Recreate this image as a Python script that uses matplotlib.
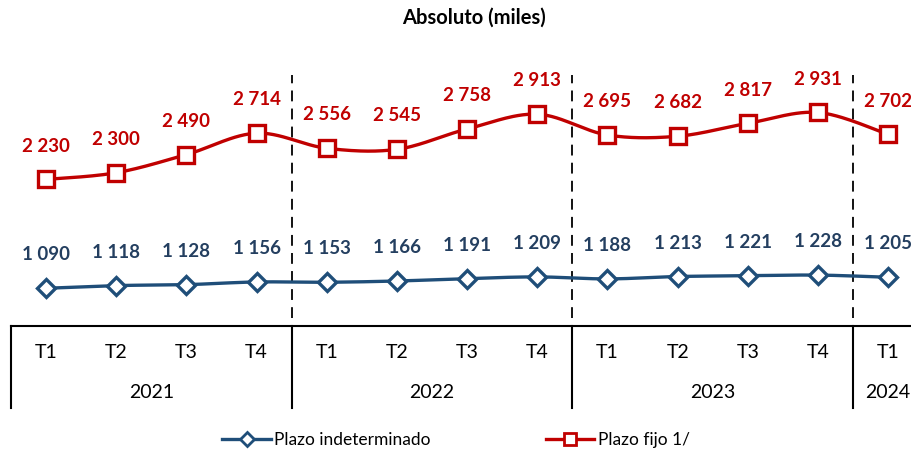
import numpy as np
import matplotlib
matplotlib.use("Agg")
import matplotlib.pyplot as plt
from matplotlib.lines import Line2D

plt.rcParams['font.family'] = ['Lato', 'DejaVu Sans']

quarters = ["T1", "T2", "T3", "T4", "T1", "T2", "T3", "T4", "T1", "T2", "T3", "T4", "T1"]
years = ["2021", "2022", "2023", "2024"]
year_sizes = [4, 4, 4, 1]
indeterminado = [1090, 1118, 1128, 1156, 1153, 1166, 1191, 1209, 1188, 1213, 1221, 1228, 1205]
fijo = [2230, 2300, 2490, 2714, 2556, 2545, 2758, 2913, 2695, 2682, 2817, 2931, 2702]

RED = "#C00000"
BLUE = "#1F4E79"
BLUE_TXT = "#243F60"


def smooth(x, y, n=30):
    # Catmull-Rom like Excel's smoothed line
    x = np.asarray(x, float)
    y = np.asarray(y, float)
    pts = np.column_stack([x, y])
    pts = np.vstack([pts[0], pts, pts[-1]])
    out = []
    t = np.linspace(0, 1, n)[:, None]
    for i in range(1, len(pts) - 2):
        p0, p1, p2, p3 = pts[i - 1], pts[i], pts[i + 1], pts[i + 2]
        c1 = p1 + (p2 - p0) / 6
        c2 = p2 - (p3 - p1) / 6
        seg = ((1 - t) ** 3) * p1 + 3 * ((1 - t) ** 2) * t * c1 + 3 * (1 - t) * t ** 2 * c2 + t ** 3 * p2
        out.append(seg if i == 1 else seg[1:])
    out = np.vstack(out)
    return out[:, 0], out[:, 1]


fig = plt.figure(figsize=(9.12, 4.53), dpi=100)
ax = fig.add_axes([11 / 912, 0.2804, 1 - 11 / 912, 0.6313])
x = np.arange(len(quarters))

for vals, col, mk, ms in [(fijo, RED, "s", 11.5), (indeterminado, BLUE, "D", 9)]:
    sx, sy = smooth(x, vals)
    ax.plot(sx, sy, color=col, lw=2.4, zorder=3)
    ax.plot(x, vals, ls="none", marker=mk, ms=ms, mfc="white", mec=col, mew=2.4, zorder=4)

for i, v in enumerate(fijo):
    ax.annotate(f"{v:,}".replace(",", " "), (i, v), xytext=(0, 24), textcoords="offset points",
                ha="center", va="center", color=RED, fontsize=13.5, fontweight="bold")
for i, v in enumerate(indeterminado):
    ax.annotate(f"{v:,}".replace(",", " "), (i, v), xytext=(0, 24), textcoords="offset points",
                ha="center", va="center", color=BLUE_TXT, fontsize=13.5, fontweight="bold")

ax.set_xlim(-0.5, 12.34)
ax.set_ylim(695, 3690)
for s in ["top", "right", "left"]:
    ax.spines[s].set_visible(False)
ax.spines["bottom"].set_linewidth(1.5)
ax.set_xticks([])
ax.set_yticks([])

# year separators
bounds = np.cumsum([0] + year_sizes) - 0.5
for b in bounds[1:-1]:
    ax.axvline(b, ymin=0.028, ymax=0.878, color="black", ls=(0, (6, 4)), lw=1.3)
for b in bounds[:-1]:
    ax.axvline(b, ymin=-0.287, ymax=0, color="black", lw=1.5, clip_on=False)

tr = ax.get_xaxis_transform()
for i, q in enumerate(quarters):
    ax.text(i, -0.094, q, transform=tr, ha="center", va="center", fontsize=14)
for k, yr in enumerate(years):
    ax.text((bounds[k] + bounds[k + 1]) / 2, -0.234, yr, transform=tr, ha="center", va="center", fontsize=14)

fig.text(0.52, 0.962, "Absoluto (miles)", ha="center", va="center", fontsize=14.5, fontweight="bold")

handles = [
    Line2D([], [], color=BLUE, lw=2.4, marker="D", ms=7, mfc="white", mec=BLUE, mew=2),
    Line2D([], [], color=RED, lw=2.4, marker="s", ms=8, mfc="white", mec=RED, mew=2),
]
fig.legend(handles, ["Plazo indeterminado", "Plazo fijo 1/"], loc="center", bbox_to_anchor=(0.5, 0.029),
           ncol=2, frameon=False, fontsize=12.5, handlelength=2.8, handletextpad=0.2, columnspacing=6.6)

fig.savefig("out.png", dpi=100)
